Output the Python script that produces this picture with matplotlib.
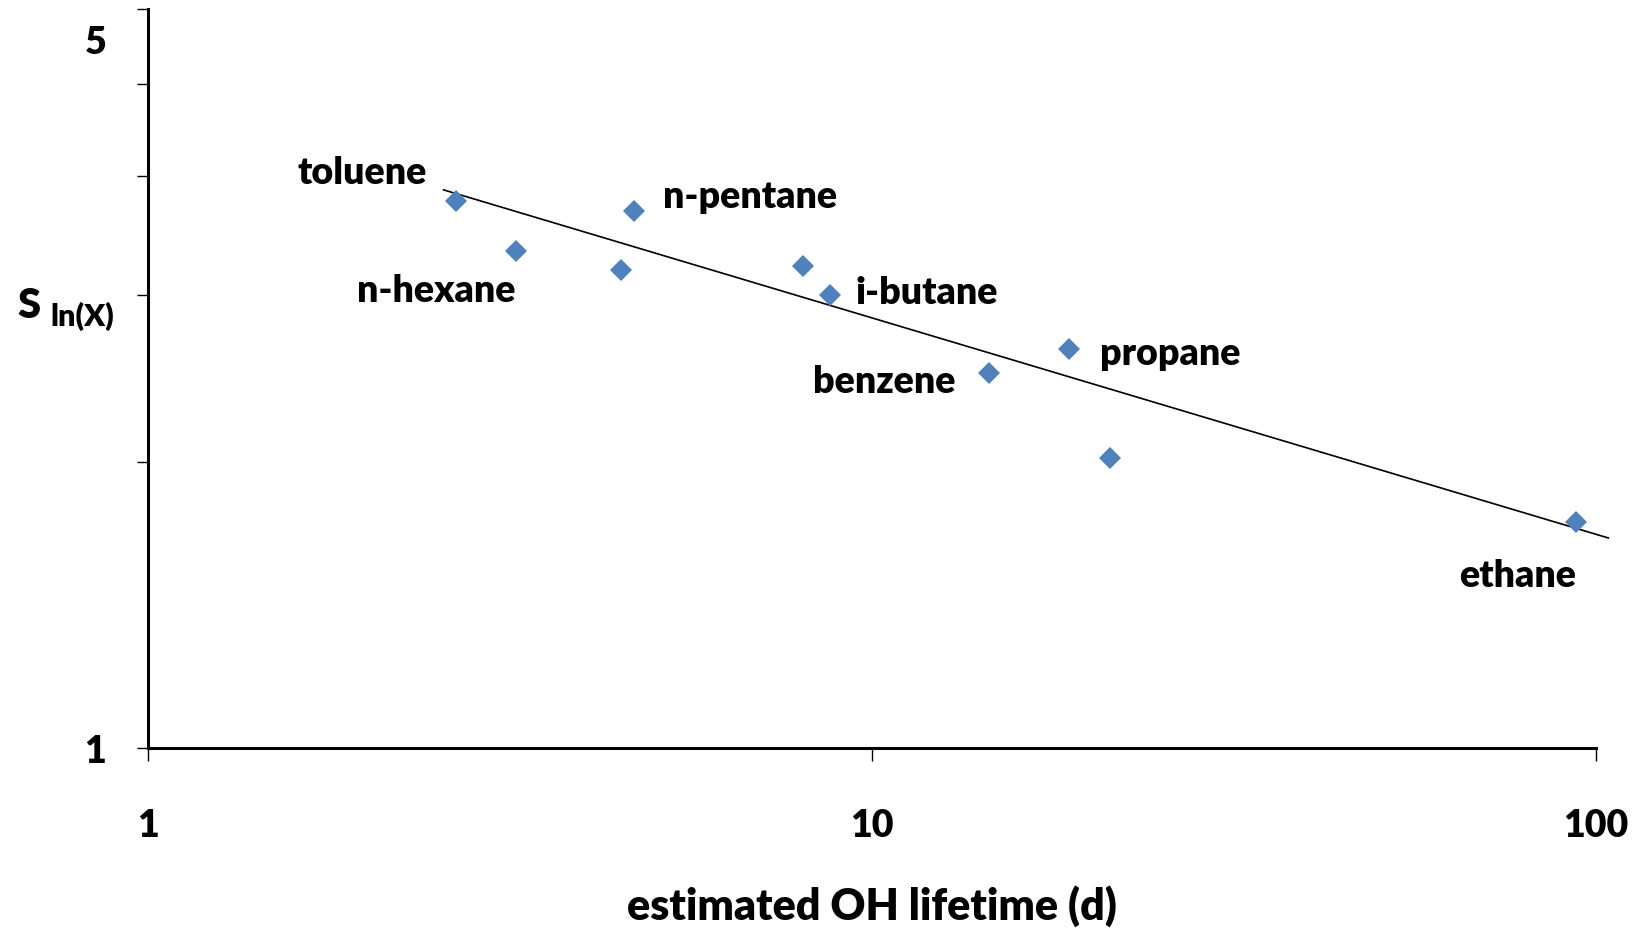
import matplotlib
matplotlib.use("Agg")
import matplotlib.pyplot as plt
import matplotlib.transforms as mtransforms
import numpy as np

# OH lifetime (d) and S_ln(X) per compound
lifetime = [2.66, 3.22, 4.50, 4.69, 8.03, 8.75, 14.5, 18.7, 21.3, 93.9]
s_lnx = [3.77, 3.34, 3.19, 3.68, 3.22, 3.00, 2.48, 2.63, 2.02, 1.73]

# power-law trend line end points
trend_x = [2.56, 104.0]
trend_y = [3.87, 1.664]

# compound labels and where they sit (x, y in data units)
labels = ["toluene", "n-pentane", "n-hexane", "i-butane", "propane", "benzene", "ethane"]
label_x = [1.975, 6.79, 2.50, 11.9, 25.8, 10.4, 78.0]
label_y = [4.04, 3.81, 3.035, 3.02, 2.605, 2.434, 1.521]

plt.rcParams['font.family'] = ['Lato', 'DejaVu Sans']
plt.rcParams['font.weight'] = 'heavy'
W = 'heavy'

fig = plt.figure(figsize=(16.44, 9.29), dpi=100)
ax = fig.add_axes([148 / 1644, 1 - 749 / 929, (1596 - 148) / 1644, (749 - 10) / 929])

ax.set_xscale('log')
ax.set_yscale('log')
ax.set_xlim(1, 100)
ax.set_ylim(1, 6)

ax.plot(trend_x, trend_y, color='black', lw=1.2, clip_on=False, zorder=2)
ax.plot(lifetime, s_lnx, ls='none', marker='D', ms=11, color='#4F81BD',
        markeredgewidth=0, zorder=3)

for txt, lx, ly in zip(labels, label_x, label_y):
    ax.text(lx, ly, txt, fontsize=27, fontweight=W, ha='center', va='center')

# axes styling
for side in ['top', 'right']:
    ax.spines[side].set_visible(False)
for side in ['left', 'bottom']:
    ax.spines[side].set_linewidth(2.2)

ax.set_xticks([1, 10, 100])
ax.set_xticklabels(['1', '10', '100'])
ax.xaxis.set_minor_locator(matplotlib.ticker.NullLocator())
ax.tick_params(axis='x', direction='out', length=9, width=1, pad=34, labelsize=27)

ax.set_yticks([1, 2, 3, 4, 5, 6])
ax.set_yticklabels(['1', '', '', '', '5', ''])
ax.yaxis.set_minor_locator(matplotlib.ticker.NullLocator())
ax.tick_params(axis='y', direction='out', length=8, width=1, pad=22, labelsize=27)

# Excel pushes the top label up into view
shift = mtransforms.ScaledTranslation(0, 45 / 100, fig.dpi_scale_trans)
lbl5 = ax.get_yticklabels()[4]
lbl5.set_transform(lbl5.get_transform() + shift)

ax.set_xlabel('estimated OH lifetime (d)', fontsize=31, fontweight=W)
ax.xaxis.set_label_coords(0.5, -0.212)
ax.xaxis.label.set_verticalalignment('center')

fig.text(29 / 1644, 1 - 306 / 929, 'S', fontsize=30, fontweight=W, ha='center', va='center')
fig.text(82 / 1644, 1 - 316 / 929, 'ln(X)', fontsize=22, fontweight=W, ha='center', va='center')

fig.savefig('out.png', dpi=100)
